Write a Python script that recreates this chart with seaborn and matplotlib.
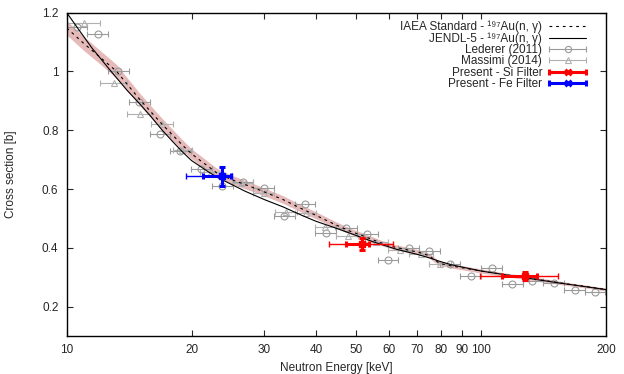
import numpy as np
import pandas as pd
import matplotlib
matplotlib.use("Agg")
import matplotlib.pyplot as plt
from matplotlib.lines import Line2D
from matplotlib.legend_handler import HandlerLine2D, HandlerTuple
import seaborn as sns

# ---------------- data ----------------
iaea_E = [10, 11, 12, 13.2, 14, 15, 16, 17, 18, 19, 20, 21, 22, 23, 25, 27.7, 30, 33.3, 36, 40,
          44, 48, 52, 57, 62, 67, 71, 75, 77, 79.4, 85, 92, 100, 115, 130, 150, 165, 180, 200]
iaea_xs = [1.148, 1.095, 1.05, 1.0, 0.956, 0.905, 0.861, 0.82, 0.784, 0.75, 0.72, 0.697, 0.676,
           0.655, 0.632, 0.609, 0.59, 0.564, 0.54, 0.51, 0.482, 0.458, 0.44, 0.418, 0.402, 0.392,
           0.384, 0.373, 0.36, 0.347, 0.338, 0.330, 0.321, 0.308, 0.297, 0.284, 0.275, 0.268, 0.258]
iaea_unc = [0.024, 0.024, 0.023, 0.023, 0.022, 0.021, 0.020, 0.020, 0.019, 0.018, 0.017, 0.017,
            0.016, 0.016, 0.015, 0.014, 0.013, 0.013, 0.012, 0.012, 0.011, 0.010, 0.010, 0.009,
            0.009, 0.009, 0.008, 0.008, 0.008, 0.007, 0.007, 0.007, 0.007, 0.006, 0.006, 0.006,
            0.005, 0.005, 0.005]

jendl_E = [10, 10.57, 11.5, 12.8, 14, 15, 16, 17, 18, 19, 20, 21, 22, 23, 24.8, 27, 30, 33.3, 37,
           40, 44, 48, 55, 62.5, 70, 75, 79, 85, 100, 125, 155, 200]
jendl_xs = [1.2, 1.152, 1.08, 1.0, 0.935, 0.89, 0.845, 0.80, 0.762, 0.727, 0.697, 0.677, 0.658,
            0.641, 0.618, 0.592, 0.564, 0.539, 0.51, 0.49, 0.47, 0.451, 0.42, 0.395, 0.378, 0.366,
            0.355, 0.342, 0.321, 0.30, 0.28, 0.258]

led_E = [10.59, 11.9, 13.3, 14.9, 16.8, 18.8, 21.1, 23.7, 26.6, 29.9, 33.5, 37.6, 42.2, 47.3,
         53.1, 59.6, 66.8, 75.0, 84.1, 94.4, 106, 119, 133, 150, 168, 188]
led_xs = [1.152, 1.127, 1.002, 0.896, 0.787, 0.731, 0.668, 0.609, 0.624, 0.602, 0.510, 0.548,
          0.451, 0.466, 0.448, 0.358, 0.401, 0.390, 0.344, 0.304, 0.332, 0.278, 0.287, 0.281,
          0.256, 0.250]
led_edges = [10.0, 11.22, 12.59, 14.13, 15.85, 17.78, 19.95, 22.39, 25.12, 28.18, 31.62, 35.48,
             39.81, 44.67, 50.12, 56.23, 63.1, 70.79, 79.43, 89.13, 100, 112.2, 125.9, 141.3,
             158.5, 177.8, 199.5]

mas_E = [11, 13, 15, 17, 19, 22.3, 26.4, 29.9, 33.9, 37.8, 42.0, 47.7, 55.9, 63.7, 71.7, 79.6]
mas_xs = [1.166, 0.960, 0.855, 0.822, 0.734, 0.657, 0.62, 0.588, 0.521, 0.520, 0.471, 0.440,
          0.420, 0.394, 0.379, 0.344]
mas_lo = [10, 12, 14, 16, 18, 21, 25, 28.2, 31.8, 35.5, 39.8, 44.7, 52.5, 59.6, 67.1, 75]
mas_hi = [12, 14, 16, 18, 20, 23.7, 28.2, 31.7, 36, 40, 44.5, 50.5, 59.5, 68, 76.5, 84.5]

si_E = [51.6, 127.6]
si_xs = [0.414, 0.304]
si_yerr = [0.021, 0.015]
si_lo_in = [47.3, 112.5]
si_hi_in = [53.5, 136.1]
si_lo_out = [43.0, 99.6]
si_hi_out = [61.2, 153.1]

fe_E = [23.65]
fe_xs = [0.643]
fe_yerr = [0.032]
fe_lo_in = [21.35]
fe_hi_in = [24.9]
fe_lo_out = [19.4]
fe_hi_out = [25.0]

xticks = [10, 20, 30, 40, 50, 60, 70, 80, 90, 100, 200]
xticklabels = ["10", "20", "30", "40", "50", "60", "70", "80", "90", "100", "200"]
yticks = [0.2, 0.4, 0.6, 0.8, 1.0, 1.2]
yticklabels = ["0.2", "0.4", "0.6", "0.8", "1", "1.2"]

labels = ["IAEA Standard - ¹⁹⁷Au(n, γ)", "JENDL-5 - ¹⁹⁷Au(n, γ)",
          "Lederer (2011)", "Massimi (2014)", "Present - Si Filter", "Present - Fe Filter"]

# ---------------- style ----------------
FS = 8.5
sns.set_style("ticks")
plt.rcParams["font.family"] = ["Liberation Sans", "DejaVu Sans"]
plt.rcParams["font.size"] = FS

fig = plt.figure(figsize=(6.24, 3.74), dpi=100)
ax = fig.add_axes([0.107, 0.1016, 0.864, 0.8644])

iaea = pd.DataFrame({"E": iaea_E, "xs": iaea_xs, "u": iaea_unc})
jendl = pd.DataFrame({"E": jendl_E, "xs": jendl_xs})

ax.fill_between(iaea["E"], iaea["xs"] - iaea["u"], iaea["xs"] + iaea["u"],
                color="#dfa3a3", alpha=0.75, lw=0, zorder=1)
sns.lineplot(data=iaea, x="E", y="xs", ax=ax, color="black", lw=0.8, zorder=3, legend=False)
l_iaea = ax.lines[-1]
l_iaea.set_dashes((2.5, 3.5))
sns.lineplot(data=jendl, x="E", y="xs", ax=ax, color="black", lw=0.8, zorder=3, legend=False)
l_jendl = ax.lines[-1]

grey1 = "#9a9a9a"
grey2 = "#b0b0b0"
led_lo = np.array(led_edges[:-1])
led_hi = np.array(led_edges[1:])
led_Ea = np.array(led_E)
ax.errorbar(led_Ea, led_xs, xerr=[led_Ea - led_lo, led_hi - led_Ea], fmt="o",
            ms=5, mfc="none", mec=grey1, color=grey1, ecolor=grey1, elinewidth=0.8,
            capsize=2.2, capthick=0.8, mew=0.8, zorder=2)
mas_Ea = np.array(mas_E)
ax.errorbar(mas_Ea, mas_xs, xerr=[mas_Ea - np.array(mas_lo), np.array(mas_hi) - mas_Ea],
            fmt="^", ms=4.2, mfc="none", mec=grey2, color=grey2, ecolor=grey2,
            elinewidth=0.8, capsize=2.2, capthick=0.8, mew=0.8, zorder=2)


def present(E, xs, yerr, lo_in, hi_in, lo_out, hi_out, col):
    E = np.array(E)
    ax.errorbar(E, xs, xerr=[E - np.array(lo_out), np.array(hi_out) - E], fmt="none",
                ecolor=col, elinewidth=1.0, capsize=2.5, capthick=1.0, zorder=4)
    ax.errorbar(E, xs, yerr=yerr, fmt="none", ecolor=col, elinewidth=2.2, capsize=2.5,
                capthick=2.2, zorder=5)
    ax.errorbar(E, xs, xerr=[E - np.array(lo_in), np.array(hi_in) - E], fmt="s",
                ms=4, color=col, mec=col, ecolor=col, elinewidth=2.2, capsize=2.0,
                capthick=2.2, zorder=5)


present(si_E, si_xs, si_yerr, si_lo_in, si_hi_in, si_lo_out, si_hi_out, "#ff0000")
present(fe_E, fe_xs, fe_yerr, fe_lo_in, fe_hi_in, fe_lo_out, fe_hi_out, "#0000ff")


# legend proxies: horizontal errorbar look (line + centre marker + end caps)
def eb_handle(col, marker, lw, ms, mfc, mew):
    body = Line2D([], [], color=col, lw=lw, marker=marker, ms=ms, mfc=mfc, mec=col, mew=mew)
    caps = Line2D([], [], color=col, lw=0, marker="|", ms=5, mew=lw)
    return (body, caps)


h_led = eb_handle(grey1, "o", 0.8, 4.5, "none", 0.8)
h_mas = eb_handle(grey2, "^", 0.8, 3.8, "none", 0.8)
h_si = eb_handle("#ff0000", "x", 2.2, 4, "#ff0000", 2.0)
h_fe = eb_handle("#0000ff", "x", 2.2, 4, "#0000ff", 2.0)

hmap = {h[1]: HandlerLine2D(numpoints=2, marker_pad=0) for h in (h_led, h_mas, h_si, h_fe)}
hmap[tuple] = HandlerTuple(ndivide=1, pad=0)
for h in (h_led, h_mas, h_si, h_fe):
    hmap[h[0]] = HandlerLine2D(numpoints=1)

leg = ax.legend([l_iaea, l_jendl, h_led, h_mas, h_si, h_fe], labels, loc="upper right",
                bbox_to_anchor=(0.974, 0.995), frameon=False, markerfirst=False,
                handlelength=3.1, handletextpad=0.6, labelspacing=-0.05, borderpad=0,
                fontsize=FS, handler_map=hmap)

ax.set_xscale("log")
ax.set_xlim(10, 200)
ax.set_ylim(0.1, 1.2)
ax.set_xticks(xticks)
ax.set_xticklabels(xticklabels)
ax.xaxis.set_minor_locator(matplotlib.ticker.NullLocator())
ax.set_yticks(yticks)
ax.set_yticklabels(yticklabels)
ax.tick_params(which="both", direction="in", top=True, right=True, length=4, width=0.8,
               labelsize=FS, pad=6)
for s in ax.spines.values():
    s.set_linewidth(1.0)
    s.set_color("black")
ax.set_xlabel("Neutron Energy [keV]", fontsize=FS, labelpad=4)
ax.set_ylabel("Cross section [b]", fontsize=FS, labelpad=18)

fig.savefig("out.png", dpi=100)
